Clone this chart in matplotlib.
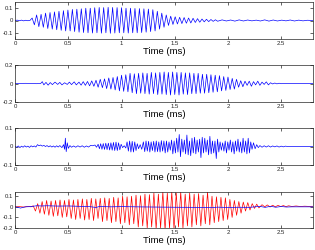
import numpy as np
import matplotlib
matplotlib.use("Agg")
import matplotlib.pyplot as plt

plt.rcParams["font.family"] = ["Liberation Sans", "DejaVu Sans"]
plt.rcParams["axes.unicode_minus"] = False

# tempos em microssegundos, amplitudes
t1 = [0, 20, 40, 60, 80, 100, 120, 140,
      160, 181, 202, 223, 244, 265, 286, 307, 328, 349, 370, 391, 412, 433, 454, 475, 496, 517, 538, 559,
      580, 601, 622, 643, 664, 685, 706, 727, 748, 769, 790, 811, 832, 853, 874, 895, 916, 937, 958, 979,
      1000, 1021, 1042, 1063, 1084, 1105, 1126, 1147, 1168, 1189, 1210, 1231, 1252, 1273, 1294, 1315,
      1336, 1357, 1378, 1399, 1420, 1441, 1462, 1483, 1504, 1525, 1546, 1567, 1588, 1609, 1630, 1651,
      1672, 1693, 1714, 1735, 1756, 1777, 1798, 1819, 1840, 1861, 1882, 1903,
      1945, 1985, 2025, 2065, 2105, 2145, 2185, 2225, 2265, 2305, 2345, 2385, 2425, 2465, 2505, 2545,
      2585, 2625, 2665, 2705, 2745, 2800]
v1 = [0, 0.003, -0.002, 0.003, -0.003, 0.002, -0.002, 0.001,
      0.02, -0.035, 0.045, -0.05, 0.05, -0.055, 0.06, -0.065, 0.065, -0.07, 0.07, -0.075, 0.075, -0.08,
      0.08, -0.085, 0.085, -0.085, 0.09, -0.09, 0.092, -0.095, 0.095, -0.098, 0.1, -0.1, 0.1, -0.102,
      0.104, -0.1, 0.106, -0.103, 0.105, -0.1, 0.107, -0.104, 0.106, -0.102, 0.105, -0.1, 0.104, -0.1,
      0.1, -0.102, 0.1, -0.1, 0.098, -0.1, 0.097, -0.098, 0.095, -0.095, 0.093, -0.09, 0.088, -0.085,
      0.075, -0.07, 0.06, -0.055, 0.045, -0.04, 0.035, -0.032, 0.03, -0.028, 0.026, -0.025, 0.024, -0.022,
      0.02, -0.02, 0.018, -0.016, 0.015, -0.014, 0.012, -0.011, 0.01, -0.009, 0.008, -0.007, 0.006, -0.006,
      0.005, -0.004, 0.004, -0.005, 0.005, -0.004, 0.004, -0.003, 0.003, -0.004, 0.005, -0.005, 0.004,
      -0.004, 0.003, -0.003, 0.004, -0.004, 0.003, -0.003, 0.002, 0.0]

t2 = [0, 100, 200, 240,
      255, 270, 290, 310, 330, 350, 375, 400, 420, 440, 465, 490, 510, 530, 555, 575, 600, 620, 640, 660,
      680, 700, 720, 740, 760, 780, 800, 820, 840, 860, 880, 900, 920, 940, 960, 980, 1000, 1020, 1040,
      1060, 1080, 1100, 1120, 1140, 1160, 1180, 1200, 1220, 1240, 1260, 1280, 1300, 1320, 1340, 1360,
      1380, 1400, 1420, 1440, 1460, 1480, 1500, 1520, 1540, 1560, 1580, 1600, 1620, 1640, 1660, 1680,
      1700, 1720, 1740, 1760, 1780, 1800, 1820, 1840, 1860, 1880, 1900, 1920, 1940, 1960, 1980, 2000,
      2020, 2040, 2060, 2080, 2100, 2120, 2140, 2160, 2180, 2200, 2220, 2240, 2260, 2280, 2300, 2320,
      2340, 2360, 2380, 2400, 2420, 2440, 2460, 2480, 2500, 2550, 2800]
v2 = [0, 0.002, -0.002, 0,
      0.02, -0.015, 0.012, -0.018, 0.01, -0.012, 0.015, -0.01, 0.012, -0.015, 0.008, -0.01, 0.015, -0.012,
      0.018, -0.015, 0.015, -0.018, 0.02, -0.02, 0.022, -0.025, 0.028, -0.03, 0.035, -0.04, 0.045, -0.045,
      0.05, -0.055, 0.06, -0.06, 0.065, -0.07, 0.075, -0.08, 0.09, -0.085, 0.095, -0.09, 0.11, -0.1,
      0.105, -0.11, 0.11, -0.105, 0.115, -0.11, 0.11, -0.115, 0.12, -0.11, 0.115, -0.12, 0.12, -0.115,
      0.125, -0.12, 0.12, -0.125, 0.125, -0.12, 0.12, -0.125, 0.12, -0.115, 0.115, -0.12, 0.115, -0.11,
      0.11, -0.11, 0.11, -0.105, 0.1, -0.105, 0.1, -0.1, 0.095, -0.095, 0.09, -0.09, 0.085, -0.08, 0.075,
      -0.075, 0.07, -0.065, 0.055, -0.06, 0.045, -0.04, 0.03, -0.035, 0.025, -0.02, 0.025, -0.03, 0.02,
      -0.015, 0.025, -0.02, 0.015, -0.01, 0.018, -0.015, 0.008, -0.005, 0.005, -0.004, 0.003, -0.002,
      0.001, 0]

t3 = [0, 15, 30, 45, 60, 75, 90, 105, 120, 135, 150, 165, 180, 195, 210, 225, 240, 255, 270, 285, 300,
      315, 330, 345, 360, 375, 390, 405, 420, 440, 455, 465, 472, 480, 490, 500, 515, 530, 550, 570, 590,
      610, 630, 650, 670, 690, 710, 730, 750, 765, 780, 792, 804, 816, 828, 840, 852, 864, 876, 888, 900,
      912, 924, 936, 948, 960, 972, 984, 996, 1010, 1025, 1040, 1052, 1064, 1076, 1088, 1100, 1112, 1124,
      1136, 1148, 1160, 1175, 1190, 1205, 1218, 1230, 1242, 1254, 1266, 1278, 1290, 1302, 1314, 1326,
      1338, 1350, 1362, 1374, 1386, 1398, 1410, 1422, 1434, 1446, 1458, 1470, 1482, 1494, 1506, 1518,
      1530, 1542, 1554, 1566, 1578, 1590, 1602, 1614, 1626, 1638, 1650, 1662, 1674, 1686, 1698, 1710,
      1722, 1734, 1746, 1758, 1770, 1782, 1794, 1806, 1818, 1830, 1842, 1854, 1866, 1878, 1890, 1902,
      1914, 1926, 1938, 1950, 1962, 1974, 1986, 1998, 2010, 2022, 2034, 2046, 2058, 2070, 2082, 2094,
      2106, 2118, 2130, 2142, 2154, 2166, 2178, 2190, 2202, 2214, 2226, 2240, 2255, 2270, 2285, 2300,
      2320, 2340, 2360, 2380, 2400, 2420, 2440, 2460, 2480, 2500, 2520, 2540, 2560, 2800]
v3 = [0.0, -0.004, 0.003, -0.006, 0.002, -0.004, 0.004, -0.003, 0.002, -0.005, 0.004, -0.002, 0.003,
      -0.003, 0.01, 0.004, 0.008, 0.002, 0.006, 0.0, 0.005, -0.002, 0.004, -0.003, 0.003, -0.004, 0.004,
      -0.003, 0.005, -0.006, 0.01, -0.015, 0.045, -0.028, 0.02, -0.01, 0.005, -0.004, 0.003, -0.004,
      0.004, -0.003, 0.004, -0.004, 0.003, -0.003, 0.006, 0.004, 0.008, -0.004, 0.012, -0.012, 0.015,
      -0.015, 0.016, -0.016, 0.018, -0.017, 0.018, -0.019, 0.02, -0.02, 0.022, -0.022, 0.024, -0.022,
      0.02, -0.018, 0.012, -0.006, 0.004, -0.008, 0.025, -0.025, 0.03, -0.03, 0.028, -0.03, 0.025,
      -0.022, 0.015, -0.012, 0.01, -0.015, 0.025, -0.028, 0.03, -0.025, 0.028, -0.03, 0.025, -0.022,
      0.028, -0.03, 0.03, -0.028, 0.025, -0.03, 0.032, -0.025, 0.03, -0.035, 0.03, -0.03, 0.025, -0.02,
      0.035, -0.04, 0.03, -0.035, 0.045, -0.03, 0.065, -0.055, 0.04, -0.03, 0.035, -0.04, 0.062, -0.045,
      0.03, -0.05, 0.045, -0.035, 0.05, -0.04, 0.035, -0.03, 0.04, -0.06, 0.05, -0.035, 0.045, -0.03,
      0.035, -0.045, 0.055, -0.04, 0.03, -0.035, 0.03, -0.065, 0.04, -0.03, 0.025, -0.02, 0.02, -0.025,
      0.03, -0.035, 0.025, -0.02, 0.035, -0.03, 0.025, -0.04, 0.03, -0.025, 0.04, -0.03, 0.025, -0.035,
      0.045, -0.03, 0.03, -0.04, 0.045, -0.035, 0.025, -0.015, 0.02, -0.012, 0.01, -0.006, 0.005,
      -0.004, 0.004, -0.003, 0.004, -0.003, 0.003, -0.002, 0.003, -0.003, 0.002, -0.002, 0.002, 0.0, 0.0]

t4r = [0, 40, 80, 120, 150,
       170, 191, 212, 233, 254, 275, 296, 317, 338, 359, 380, 401, 422, 443, 464, 485, 506, 527, 548,
       569, 590, 611, 632, 653, 674, 695, 716, 737, 758, 779, 800, 821, 842, 863, 884, 905, 926, 947,
       968, 989, 1010, 1031, 1052, 1073, 1094, 1115, 1136, 1157, 1178, 1199, 1220, 1241, 1262, 1283,
       1304, 1325, 1346, 1367, 1388, 1409, 1430, 1451, 1472, 1493, 1514, 1535, 1556, 1577, 1598, 1619,
       1640, 1661, 1682, 1703, 1724, 1745, 1766, 1787, 1808, 1829, 1850, 1871, 1892, 1913, 1934, 1955,
       1976, 1997, 2018, 2039, 2060, 2081, 2102, 2123, 2144, 2165, 2186, 2207, 2228, 2249, 2270, 2291,
       2320, 2345, 2370, 2395, 2420, 2445, 2470, 2495, 2520, 2545, 2570, 2600, 2640, 2680, 2720, 2760, 2800]
v4r = [0.0, 0.002, -0.002, 0.003, 0.0,
       0.01, -0.04, 0.03, -0.06, 0.05, -0.07, 0.06, -0.08, 0.055, -0.09, 0.06, -0.085, 0.065, -0.1, 0.06,
       -0.095, 0.07, -0.11, 0.065, -0.12, 0.07, -0.11, 0.075, -0.125, 0.07, -0.12, 0.08, -0.13, 0.075,
       -0.11, 0.08, -0.14, 0.085, -0.13, 0.08, -0.15, 0.09, -0.14, 0.085, -0.16, 0.1, -0.15, 0.095, -0.17,
       0.1, -0.16, 0.11, -0.19, 0.105, -0.18, 0.12, -0.2, 0.115, -0.19, 0.13, -0.21, 0.12, -0.2, 0.14,
       -0.22, 0.13, -0.2, 0.14, -0.21, 0.13, -0.19, 0.14, -0.2, 0.12, -0.18, 0.13, -0.19, 0.12, -0.17,
       0.125, -0.18, 0.11, -0.16, 0.14, -0.17, 0.1, -0.15, 0.095, -0.14, 0.09, -0.13, 0.085, -0.12, 0.07,
       -0.1, 0.06, -0.08, 0.05, -0.06, 0.045, -0.04, 0.04, -0.03, 0.03, -0.015, 0.025, -0.01,
       0.02, 0.0, 0.018, -0.002, 0.015, 0.0, 0.014, 0.002, 0.012, 0.002, 0.01, 0.003, 0.008, 0.003,
       0.006, 0.004, 0.005]

t4b = [0, 30, 50, 70, 100, 150, 200, 250, 300, 400, 500, 600, 700, 760, 790, 900, 1000, 1200, 1400,
       1500, 1700, 1850, 1900, 2000, 2100, 2200, 2300, 2350, 2400, 2450, 2500, 2550, 2600, 2800]
v4b = [0.0, -0.005, -0.012, -0.006, 0.0, 0.002, 0.01, 0.008, 0.01, 0.007, 0.008, 0.005, 0.002, -0.006,
       0.003, 0.0, 0.002, -0.001, -0.003, -0.004, -0.005, -0.008, -0.003, -0.006, -0.004, -0.005, 0.004,
       -0.005, 0.005, -0.004, 0.003, -0.002, 0.0, 0.0]

xticks = [0, 0.5, 1, 1.5, 2, 2.5]
xticklabels = ["0", "0.5", "1", "1.5", "2", "2.5"]

fig = plt.figure(figsize=(3.15, 2.5), dpi=100)
rects = [(0.048, 0.844, 0.946, 0.148), (0.048, 0.592, 0.946, 0.148),
         (0.048, 0.340, 0.946, 0.148), (0.048, 0.088, 0.946, 0.144)]

panels = [
    ([(t1, v1, "b")], (-0.15, 0.15), [-0.1, 0, 0.1], ["-0.1", "0", "0.1"]),
    ([(t2, v2, "b")], (-0.2, 0.2), [-0.2, 0, 0.2], ["-0.2", "0", "0.2"]),
    ([(t3, v3, "b")], (-0.1, 0.1), [-0.1, 0, 0.1], ["-0.1", "0", "0.1"]),
    ([(t4r, v4r, "r"), (t4b, v4b, "b")], (-0.2, 0.14), [-0.2, -0.1, 0, 0.1],
     ["-0.2", "-0.1", "0", "0.1"]),
]

for rect, (series, ylim, yt, ytl) in zip(rects, panels):
    ax = fig.add_axes(rect)
    for t, v, c in series:
        ax.plot(np.array(t) / 1000.0, v, color=c, linewidth=0.5)
    ax.set_xlim(0, 2.8)
    ax.set_ylim(*ylim)
    ax.set_xticks(xticks)
    ax.set_xticklabels(xticklabels)
    ax.set_yticks(yt)
    ax.set_yticklabels(ytl)
    ax.tick_params(direction="in", length=2, width=0.5, labelsize=4.3, pad=1.5,
                   top=True, right=True, colors="#262626")
    for s in ax.spines.values():
        s.set_linewidth(0.5)
        s.set_color("#262626")
    ax.set_xlabel("Time (ms)", fontsize=6.8, labelpad=0.8)

fig.savefig("out.png", dpi=100)
